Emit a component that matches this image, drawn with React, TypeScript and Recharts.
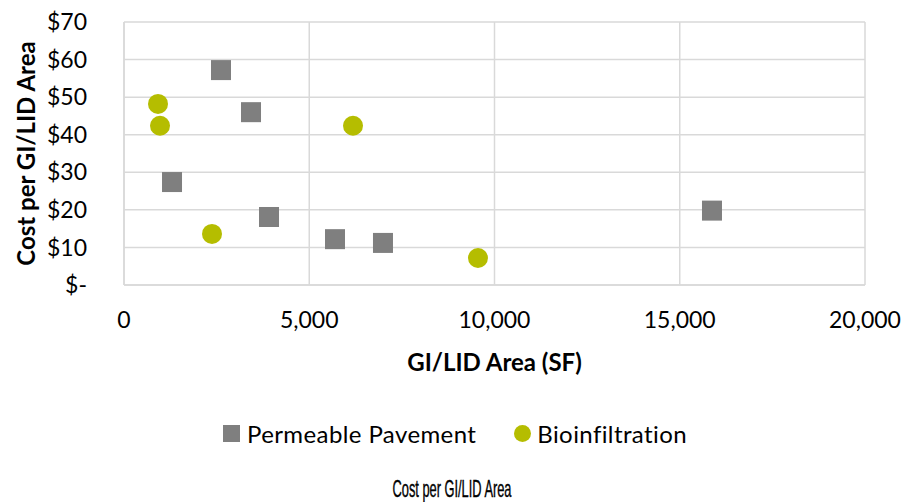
import React from "react";
import { ScatterChart, Scatter, XAxis, YAxis, CartesianGrid } from "recharts";

const pavementArea = [2618, 3428, 1296, 3914, 5695, 6990, 15870];
const pavementCost = [57.2, 46.0, 27.4, 18.1, 12.2, 11.2, 19.8];
const bioArea = [918, 972, 2375, 6181, 9554];
const bioCost = [48.2, 42.4, 13.6, 42.4, 7.2];
const xTicks = [0, 5000, 10000, 15000, 20000];
const yTicks = [0, 10, 20, 30, 40, 50, 60, 70];

const pavement = pavementArea.map((x, i) => ({ x, y: pavementCost[i] }));
const bio = bioArea.map((x, i) => ({ x, y: bioCost[i] }));

const GRAY = "#7f7f7f";
const GREEN = "#b5bd00";
const FONT = "Lato, 'Open Sans', sans-serif";

const fmtY = (v: number) => (v === 0 ? "$-" : `$${v}`);
const fmtX = (v: number) => v.toLocaleString("en-US");

// eslint-disable-next-line @typescript-eslint/no-explicit-any
function SquareDot(props: any) {
  const { cx, cy } = props;
  return <rect x={cx - 10} y={cy - 10} width={20} height={20} fill={GRAY} />;
}

// eslint-disable-next-line @typescript-eslint/no-explicit-any
function CircleDot(props: any) {
  const { cx, cy } = props;
  return <circle cx={cx} cy={cy} r={10} fill={GREEN} />;
}

export default function App() {
  return (
    <div style={{ position: "absolute", left: 0, top: 0, width: 904, height: 502, background: "#fff", fontFamily: FONT }}>
      <ScatterChart width={904} height={502} margin={{ top: 22, right: 39, bottom: 127, left: 0 }}>
        <CartesianGrid stroke="#d9d9d9" strokeWidth={1.5} />
        <XAxis
          type="number"
          dataKey="x"
          domain={[0, 20000]}
          ticks={xTicks}
          tickFormatter={fmtX}
          axisLine={{ stroke: "#d9d9d9", strokeWidth: 1.5 }}
          tickLine={false}
          tickMargin={21}
          height={90}
          tick={{ fill: "#000", fontSize: 23, fontFamily: FONT }}
          label={{ value: "GI/LID Area (SF)", position: "insideBottom", offset: 4, fill: "#000", fontSize: 24, fontWeight: 700, fontFamily: FONT }}
        />
        <YAxis
          type="number"
          dataKey="y"
          domain={[0, 70]}
          ticks={yTicks}
          tickFormatter={fmtY}
          axisLine={{ stroke: "#d9d9d9", strokeWidth: 1.5 }}
          tickLine={false}
          tickMargin={31}
          width={124}
          tick={{ fill: "#000", fontSize: 23, fontFamily: FONT }}
          label={{ value: "Cost per GI/LID Area", angle: -90, position: "insideLeft", offset: 26, style: { textAnchor: "middle" }, fill: "#000", fontSize: 24, fontWeight: 700, fontFamily: FONT }}
        />
        <Scatter data={pavement} shape={<SquareDot />} isAnimationActive={false} />
        <Scatter data={bio} shape={<CircleDot />} isAnimationActive={false} />
      </ScatterChart>
      <div style={{ position: "absolute", top: 418, left: 3, width: 904, height: 30, display: "flex", justifyContent: "center", alignItems: "center", fontSize: 24, letterSpacing: 0.4, color: "#000" }}>
        <span style={{ display: "inline-block", width: 17, height: 17, background: GRAY, marginRight: 7 }} />
        <span style={{ marginRight: 38 }}>Permeable Pavement</span>
        <span style={{ display: "inline-block", width: 17, height: 17, borderRadius: 9, background: GREEN, marginRight: 6 }} />
        <span>Bioinfiltration</span>
      </div>
      <svg style={{ position: "absolute", left: 0, top: 470 }} width={904} height={32}>
        <text x={452} y={27} textAnchor="middle" fontSize={24} fontFamily="'Liberation Sans', sans-serif" textLength={119} lengthAdjust="spacingAndGlyphs" fill="#000" stroke="#000" strokeWidth={0.4}>
          Cost per GI/LID Area
        </text>
      </svg>
    </div>
  );
}
